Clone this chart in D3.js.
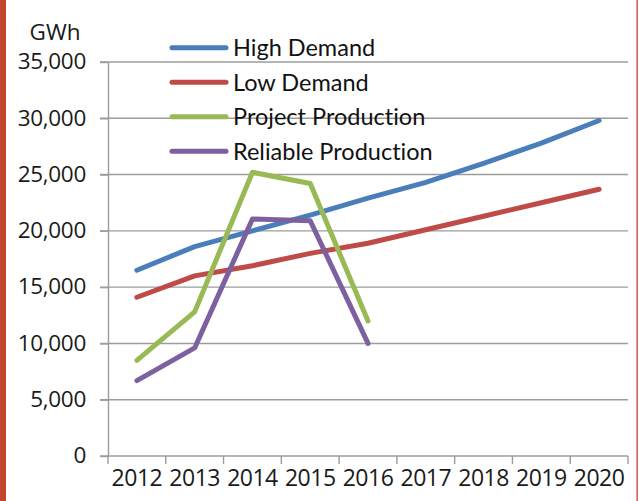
<!DOCTYPE html>
<html><head><meta charset="utf-8">
<script src="https://cdn.jsdelivr.net/npm/d3@7"></script>
<style>body{margin:0;background:#fff}svg{display:block}text{font-variant-ligatures:none}</style>
</head><body>
<svg id="chart" width="639" height="501"></svg>
<script>
const years = ["2012","2013","2014","2015","2016","2017","2018","2019","2020"];
const highDemand = [16500, 18600, 20000, 21400, 22900, 24300, 26000, 27800, 29800];
const lowDemand = [14100, 16000, 16900, 18000, 18900, 20100, 21300, 22500, 23700];
const projectProduction = [8500, 12800, 25200, 24200, 12000];
const reliableProduction = [6700, 9600, 21050, 20900, 10000];
const yTicks = [0, 5000, 10000, 15000, 20000, 25000, 30000, 35000];
const seriesNames = ["High Demand", "Low Demand", "Project Production", "Reliable Production"];
const seriesColors = ["#4a7ebb", "#be4b48", "#98b954", "#7d60a0"];

const svg = d3.select("#chart");
const pLeft = 108, pRight = 628, pTop = 62, pBottom = 456;
const x = d3.scaleBand().domain(years).range([pLeft, pRight]);
const y = d3.scaleLinear().domain([0, 35000]).range([pBottom, pTop]);
const grid = "#9c9c9c";

// borders
svg.append("rect").attr("x",0).attr("y",0).attr("width",6).attr("height",501).attr("fill","#c4442d");
svg.append("rect").attr("x",636.5).attr("y",0).attr("width",1.3).attr("height",501).attr("fill","#c4442d");

// gridlines
svg.append("g").selectAll("line").data(yTicks.slice(1)).join("line")
  .attr("x1", pLeft-8).attr("x2", pRight).attr("y1", d=>y(d)).attr("y2", d=>y(d))
  .attr("stroke", grid).attr("stroke-width", 1.4);

// y axis
const yAxis = svg.append("g").attr("transform",`translate(${pLeft},0)`)
  .call(d3.axisLeft(y).tickValues(yTicks).tickSize(8).tickSizeOuter(0).tickPadding(14)
    .tickFormat(d3.format(",")));
yAxis.select(".domain").attr("stroke", grid).attr("stroke-width",1.4);
yAxis.selectAll(".tick line").attr("stroke", grid).attr("stroke-width",1.4);
yAxis.selectAll("text").attr("font-family","'Open Sans', sans-serif").attr("font-size",22.5)
  .attr("fill","#1a1a1a").attr("dy","0.30em").attr("letter-spacing","-0.3");

// x axis
const xAxis = svg.append("g").attr("transform",`translate(0,${pBottom})`)
  .call(d3.axisBottom(x).tickSize(0).tickPadding(14));
xAxis.select(".domain").remove();
xAxis.append("line").attr("x1", pLeft-8).attr("x2", pRight).attr("stroke", grid).attr("stroke-width",1.4);
xAxis.selectAll(".bt").data(d3.range(years.length+1)).join("line")
  .attr("x1", i=>pLeft + i*x.bandwidth()).attr("x2", i=>pLeft + i*x.bandwidth())
  .attr("y1",0).attr("y2",8).attr("stroke", grid).attr("stroke-width",1.4);
xAxis.selectAll(".tick text").attr("font-family","'Open Sans', sans-serif").attr("font-size",23)
  .attr("fill","#1a1a1a").attr("dy","0.70em").attr("letter-spacing","-0.5");

// GWh label
svg.append("text").attr("x",55).attr("y",40).attr("text-anchor","middle")
  .attr("font-family","'Open Sans', sans-serif").attr("font-size",22.5).attr("fill","#1a1a1a").text("GWh");

// lines
const cx = d => x(d) + x.bandwidth()/2;
const allSeries = [highDemand, lowDemand, projectProduction, reliableProduction];
const line = d3.line().x((d,i)=>cx(years[i])).y(d=>y(d));
svg.append("g").selectAll("path").data(allSeries).join("path")
  .attr("d", d=>line(d)).attr("fill","none")
  .attr("stroke",(d,i)=>seriesColors[i]).attr("stroke-width",5)
  .attr("stroke-linejoin","round").attr("stroke-linecap","round");

// legend
const lg = svg.append("g").selectAll("g").data(seriesNames).join("g")
  .attr("transform",(d,i)=>`translate(172,${47.7 + i*34.5})`);
lg.append("line").attr("x1",0).attr("x2",54).attr("stroke",(d,i)=>seriesColors[i])
  .attr("stroke-width",5).attr("stroke-linecap","round");
lg.append("text").attr("x",61).attr("y",8.3).attr("font-family","Lato, sans-serif")
  .attr("font-size",23.5).attr("fill","#111").text(d=>d);
</script>
</body></html>
